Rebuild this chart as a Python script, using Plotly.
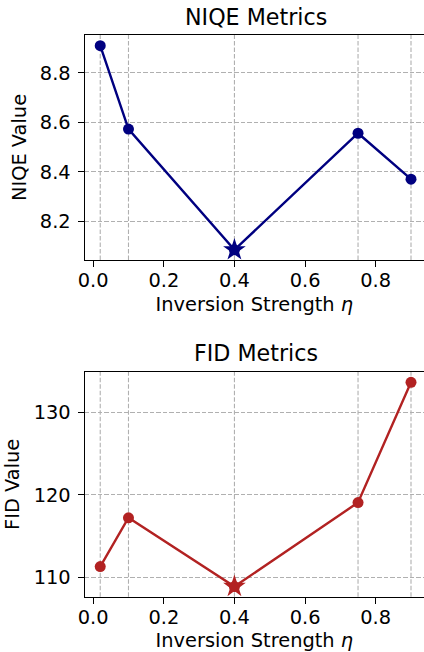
import plotly.graph_objects as go

eta = [0.02, 0.1, 0.4, 0.75, 0.9]
niqe = [8.909, 8.573, 8.086, 8.556, 8.371]
fid = [111.33, 117.23, 108.92, 119.07, 133.6]
x_ticks = [0.0, 0.2, 0.4, 0.6, 0.8]
niqe_ticks = [8.2, 8.4, 8.6, 8.8]
fid_ticks = [110, 120, 130]

NAVY = "#000080"
RED = "#b22222"
FONT = "DejaVu Sans"
TICK = 19.4
TITLE = 22.2
GRID = "#b0b0b0"
DASH = "4.5px,2px"

W, H = 424, 652

fig = go.Figure()

def add_panel(xa, ya, yvals, color):
    xs, ys = "x" if xa == 1 else "x2", "y" if ya == 1 else "y2"
    fig.add_trace(go.Scatter(x=eta, y=yvals, mode="lines+markers",
                             line=dict(color=color, width=2.4),
                             marker=dict(color=color, size=11, symbol="circle"),
                             xaxis=xs, yaxis=ys, showlegend=False))
    i = yvals.index(min(yvals))
    fig.add_trace(go.Scatter(x=[eta[i]], y=[yvals[i]], mode="markers",
                             marker=dict(color=color, size=17, symbol="star"),
                             xaxis=xs, yaxis=ys, showlegend=False))
    for xv in eta:
        fig.add_shape(type="line", x0=xv, x1=xv, y0=0, y1=1,
                      xref=xs, yref=ys + " domain",
                      line=dict(color=GRID, width=1.1, dash=DASH),
                      layer="below")

add_panel(1, 1, niqe, NAVY)
add_panel(2, 2, fid, RED)

x0 = 79.0 / W
top_dom = [1 - 260.0 / H, 1 - 35.0 / H]
bot_dom = [1 - 596.7 / H, 1 - 372.0 / H]

xcommon = dict(range=[-0.024, 0.9368], tickvals=x_ticks, tickformat=".1f",
               showline=True, linecolor="black", linewidth=1.3, mirror=True,
               ticks="outside", ticklen=6, tickwidth=1.2, tickcolor="black",
               ticklabelstandoff=-3,
               showgrid=False, zeroline=False,
               tickfont=dict(family=FONT, size=TICK, color="black"),
               title=dict(text="Inversion Strength <i>η</i>",
                          font=dict(family=FONT, size=TICK, color="black"),
                          standoff=5))
ycommon = dict(showline=True, linecolor="black", linewidth=1.3, mirror=False,
               ticks="outside", ticklen=6, tickwidth=1.2, tickcolor="black",
               ticklabelstandoff=3,
               showgrid=True, gridcolor=GRID, gridwidth=1.1, griddash=DASH,
               zeroline=False,
               tickfont=dict(family=FONT, size=TICK, color="black"))

fig.update_layout(
    width=W, height=H,
    margin=dict(l=0, r=0, t=0, b=0),
    paper_bgcolor="white", plot_bgcolor="white",
    xaxis=dict(domain=[x0, 1], anchor="y", **xcommon),
    yaxis=dict(domain=top_dom, anchor="x", range=[8.045, 8.952],
               tickvals=niqe_ticks, tickformat=".1f",
               title=dict(text="NIQE Value", font=dict(family=FONT, size=TICK, color="black"),
                          standoff=8), **ycommon),
    xaxis2=dict(domain=[x0, 1], anchor="y2", **xcommon),
    yaxis2=dict(domain=bot_dom, anchor="x2", range=[107.69, 134.85],
                tickvals=fid_ticks, tickformat="d",
                title=dict(text="FID Value", font=dict(family=FONT, size=TICK, color="black"),
                           standoff=8), **ycommon),
    annotations=[
        dict(text="NIQE Metrics", x=252.8 / W, y=1 - 2.0 / H, xref="paper", yref="paper",
             xanchor="center", yanchor="top", showarrow=False,
             font=dict(family=FONT, size=TITLE, color="black")),
        dict(text="FID Metrics", x=252.8 / W, y=1 - 338.0 / H, xref="paper", yref="paper",
             xanchor="center", yanchor="top", showarrow=False,
             font=dict(family=FONT, size=TITLE, color="black")),
    ],
)

fig.write_html("out.html", config={"displayModeBar": False},
               post_script="document.body.style.margin='0';document.body.style.overflow='hidden';")
